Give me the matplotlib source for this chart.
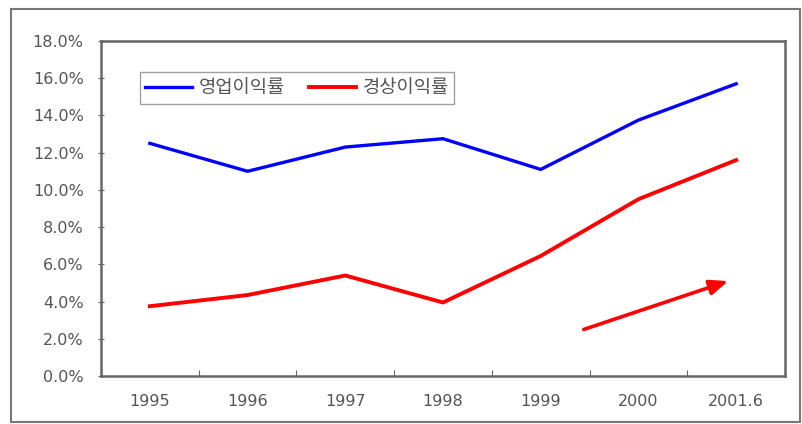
import matplotlib
matplotlib.use('Agg')
import matplotlib.pyplot as plt
from matplotlib.patches import Rectangle
import numpy as np

plt.rcParams['font.family'] = ['DejaVu Sans', 'Noto Sans CJK KR']

# data
years = ['1995', '1996', '1997', '1998', '1999', '2000', '2001.6']
operating_margin = [12.5, 11.0, 12.3, 12.75, 11.1, 13.75, 15.7]   # 영업이익률
ordinary_margin = [3.75, 4.35, 5.4, 3.95, 6.45, 9.5, 11.6]       # 경상이익률
yticks = [0, 2, 4, 6, 8, 10, 12, 14, 16, 18]

text_color = '#555555'
frame_color = '#666666'

fig = plt.figure(figsize=(8.02, 4.24), dpi=100)
fig.patch.set_facecolor('white')

# outer chart frame
fig.patches.append(Rectangle((11 / 802, 2 / 424), 789 / 802, 413 / 424,
                             transform=fig.transFigure, fill=False,
                             edgecolor='#777777', linewidth=1.5))

ax = fig.add_axes([101 / 802, 1 - 376 / 424, 684 / 802, 335 / 424])
x = np.arange(len(years))

ax.plot(x, operating_margin, color='#0000ff', linewidth=2.4, label='영업이익률',
        solid_joinstyle='round')
ax.plot(x, ordinary_margin, color='#ff0000', linewidth=2.8, label='경상이익률',
        solid_joinstyle='round')

# trend arrow
ax.annotate('', xy=(5.92, 5.1), xytext=(4.44, 2.5),
            arrowprops=dict(arrowstyle='-|>,head_length=1.1,head_width=0.45',
                            color='#ff0000', lw=2.6, shrinkA=0, shrinkB=0))

ax.set_xlim(-0.5, len(years) - 0.5)
ax.set_ylim(0, 18)
ax.set_yticks(yticks)
ax.set_yticklabels([f'{v:.1f}%' for v in yticks], fontsize=11.5, color=text_color)

# category labels centred, ticks on the boundaries
ax.set_xticks(np.arange(len(years) + 1) - 0.5)
ax.set_xticklabels([])
ax.set_xticks(x, minor=True)
ax.set_xticklabels(years, minor=True, fontsize=11.5, color=text_color)
ax.tick_params(axis='x', which='minor', length=0, pad=13)
ax.tick_params(axis='x', which='major', direction='in', length=4, color=frame_color)
ax.tick_params(axis='y', direction='inout', length=5, color=frame_color, pad=10)

for side in ['left', 'bottom', 'right', 'top']:
    ax.spines[side].set_color(frame_color)
    ax.spines[side].set_linewidth(1.8)

leg = ax.legend(loc='upper left', bbox_to_anchor=(0.057, 0.907), ncol=2,
                frameon=True, fancybox=False, borderaxespad=0,
                prop={'family': ['Noto Sans CJK KR', 'DejaVu Sans'], 'size': 13.5},
                handlelength=2.5, columnspacing=1.3, handletextpad=0.35,
                borderpad=0.28)
leg.get_frame().set_edgecolor('#888888')
leg.get_frame().set_linewidth(1.0)
for t in leg.get_texts():
    t.set_color(text_color)

plt.savefig('out.png', dpi=100, facecolor='white')
plt.close()
